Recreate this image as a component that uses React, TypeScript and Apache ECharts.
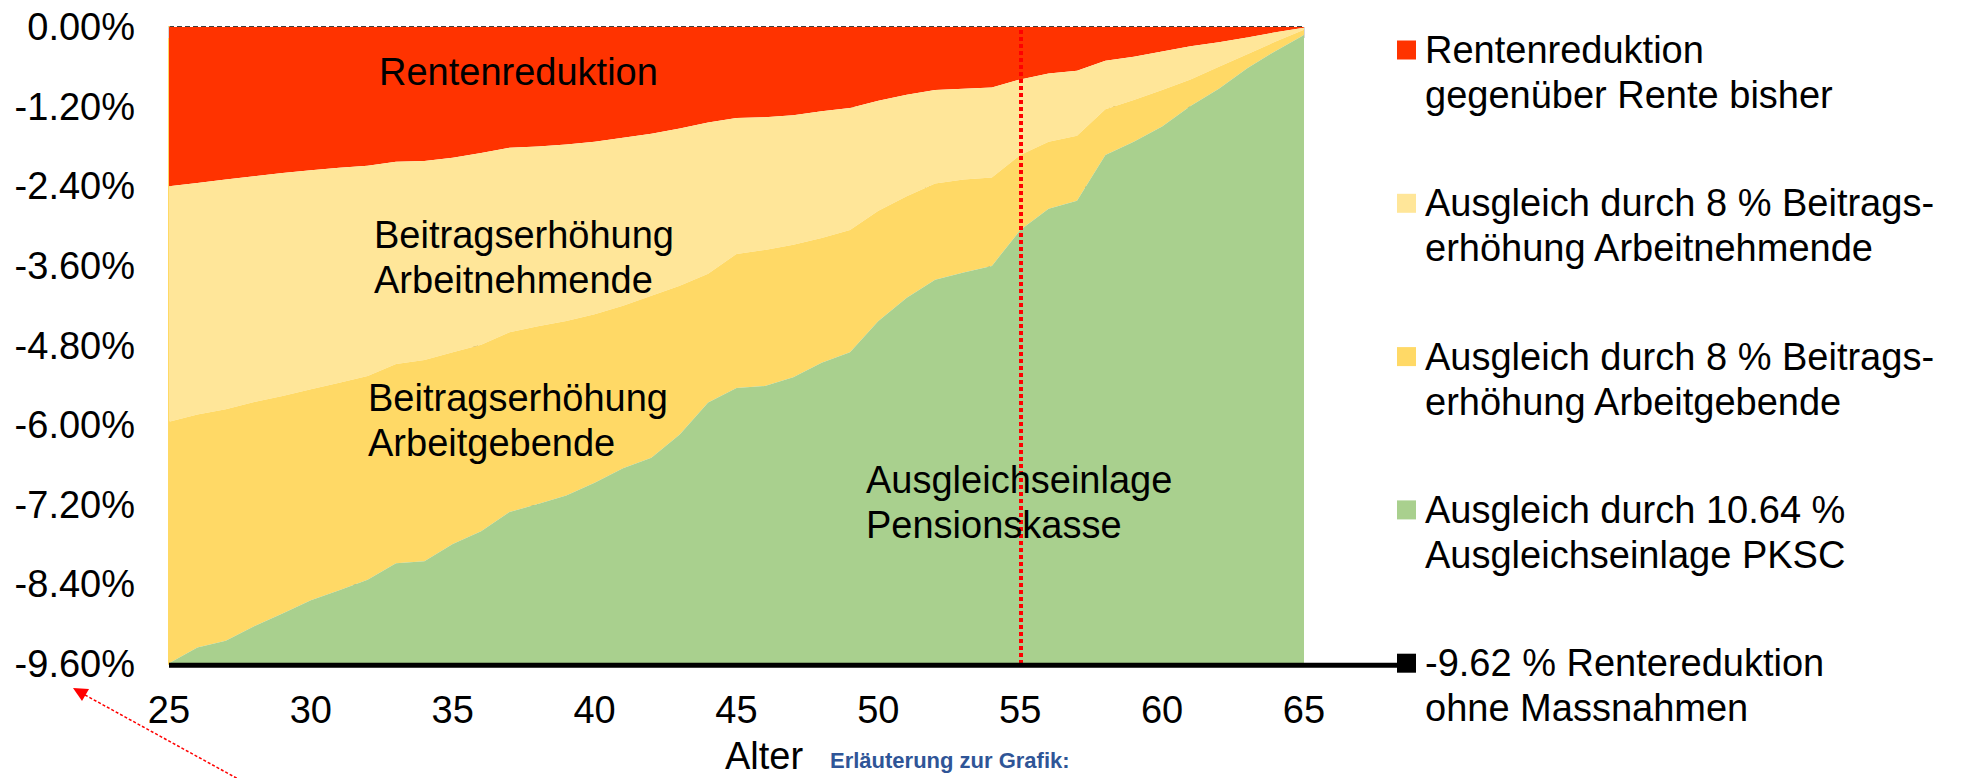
import React, { useEffect, useRef } from "react";
import * as echarts from "echarts";

const FONT = "'Liberation Sans', Arial, Helvetica, sans-serif";

// Age on the x axis
const ages = [
  "25", "26", "27", "28", "29", "30", "31", "32", "33", "34",
  "35", "36", "37", "38", "39", "40", "41", "42", "43", "44",
  "45", "46", "47", "48", "49", "50", "51", "52", "53", "54",
  "55", "56", "57", "58", "59", "60", "61", "62", "63", "64", "65",
];

// Remaining pension reduction versus the current pension (%), lower edge of the red band
const reductionEdge = [
  -2.40, -2.35, -2.30, -2.25, -2.20, -2.16, -2.12, -2.09, -2.03, -2.02,
  -1.97, -1.90, -1.82, -1.80, -1.77, -1.73, -1.67, -1.61, -1.53, -1.44,
  -1.37, -1.36, -1.33, -1.27, -1.22, -1.11, -1.02, -0.95, -0.93, -0.91,
  -0.79, -0.70, -0.66, -0.51, -0.45, -0.37, -0.29, -0.23, -0.16, -0.08, -0.01,
];

// Cumulated down to the employee contribution increase (%)
const employeeEdge = [
  -5.95, -5.84, -5.76, -5.65, -5.56, -5.46, -5.36, -5.26, -5.08, -5.02,
  -4.90, -4.79, -4.60, -4.51, -4.43, -4.33, -4.20, -4.05, -3.90, -3.72,
  -3.42, -3.36, -3.28, -3.18, -3.06, -2.77, -2.55, -2.36, -2.30, -2.27,
  -1.93, -1.73, -1.64, -1.24, -1.10, -0.95, -0.79, -0.60, -0.41, -0.22, -0.04,
];

// Cumulated down to the employer contribution increase (%)
const employerEdge = [
  -9.59, -9.35, -9.25, -9.03, -8.84, -8.64, -8.49, -8.33, -8.08, -8.05,
  -7.79, -7.60, -7.31, -7.19, -7.06, -6.87, -6.65, -6.49, -6.14, -5.66,
  -5.44, -5.41, -5.28, -5.06, -4.90, -4.43, -4.08, -3.81, -3.70, -3.60,
  -3.06, -2.74, -2.62, -1.93, -1.73, -1.50, -1.19, -0.93, -0.62, -0.36, -0.12,
];

// Pension reduction without any measures (%)
const reductionWithoutMeasures = -9.62;

const yMin = -9.6;
const yMax = 0;
const yStep = 1.2;
const cutoffAge = "55";

const round2 = (v: number) => Math.round(v * 100) / 100;

// Thickness of each band, stacked from 0 downwards
const reductionShare = reductionEdge;
const employeeShare = employeeEdge.map((v, i) => round2(v - reductionEdge[i]));
const employerShare = employerEdge.map((v, i) => round2(v - employeeEdge[i]));
const fundShare = employerEdge.map((v) => round2(reductionWithoutMeasures - v));
const noMeasuresLine = ages.map(() => reductionWithoutMeasures);

const COLORS = {
  reduction: "#FF3300",
  employee: "#FFE699",
  employer: "#FFD966",
  fund: "#A9D08E",
  line: "#000000",
  marker: "#FF0000",
  note: "#2F5597",
};

const legendItems = [
  { lines: ["Rentenreduktion", "gegenüber Rente bisher"], color: COLORS.reduction },
  { lines: ["Ausgleich durch 8 % Beitrags-", "erhöhung Arbeitnehmende"], color: COLORS.employee },
  { lines: ["Ausgleich durch 8 % Beitrags-", "erhöhung Arbeitgebende"], color: COLORS.employer },
  { lines: ["Ausgleich durch 10.64 %", "Ausgleichseinlage PKSC"], color: COLORS.fund },
  { lines: ["-9.62 % Rentereduktion", "ohne Massnahmen"], color: COLORS.line },
];

const bandLabels = [
  { lines: ["Rentenreduktion"], x: 379, y: 72 },
  { lines: ["Beitragserhöhung", "Arbeitnehmende"], x: 374, y: 235 },
  { lines: ["Beitragserhöhung", "Arbeitgebende"], x: 368, y: 398 },
  { lines: ["Ausgleichseinlage", "Pensionskasse"], x: 866, y: 480 },
];

const WIDTH = 1961;
const HEIGHT = 778;
const GRID = { left: 169, right: 657, top: 27, bottom: 114 };
const LINE_STEP = 45;
const LEGEND = { x: 1397, firstY: 50, step: 153.3, box: 19, textX: 1425 };

function text(str: string, x: number, y: number, extra: Record<string, unknown> = {}) {
  return {
    type: "text",
    x,
    y,
    silent: true,
    z: 100,
    style: {
      text: str,
      fontSize: 38,
      fontFamily: FONT,
      fill: "#000000",
      align: "left",
      textAlign: "left",
      verticalAlign: "middle",
      textVerticalAlign: "middle",
      ...extra,
    },
  };
}

function areaSeries(name: string, data: number[], color: string) {
  return {
    name,
    type: "line",
    stack: "total",
    data,
    symbol: "none",
    silent: true,
    lineStyle: { width: 0, opacity: 0 },
    itemStyle: { color },
    areaStyle: { color, opacity: 1 },
    z: 2,
  };
}

export default function App() {
  const ref = useRef<HTMLDivElement>(null);

  useEffect(() => {
    if (!ref.current) return;
    const chart = echarts.init(ref.current, null, { renderer: "svg" });

    const option: any = {
      animation: false,
      backgroundColor: "#FFFFFF",
      grid: { ...GRID, containLabel: false },
      xAxis: {
        type: "category",
        data: ages,
        boundaryGap: false,
        axisLine: { show: false },
        axisTick: {
          show: true,
          interval: 0,
          length: 11,
          lineStyle: { color: "#D9D9D9", width: 2 },
        },
        axisLabel: {
          interval: 4,
          fontSize: 38,
          fontFamily: FONT,
          color: "#000000",
          margin: 27,
        },
        splitLine: { show: false },
      },
      yAxis: {
        type: "value",
        min: yMin,
        max: yMax,
        interval: yStep,
        axisLine: { show: true, lineStyle: { color: "#FFD966", width: 2 } },
        axisTick: { show: false },
        axisLabel: {
          fontSize: 38,
          fontFamily: FONT,
          color: "#000000",
          margin: 34,
          formatter: (v: number) => (Math.abs(v) < 1e-9 ? "0.00" : v.toFixed(2)) + "%",
        },
        splitLine: {
          show: true,
          lineStyle: {
            color: [
              "#808080", "#808080", "#808080", "#808080", "#808080",
              "#808080", "#808080", "#808080", "#000000",
            ],
            width: 1.5,
            type: [5, 3],
          },
        },
      },
      series: [
        areaSeries(legendItems[0].lines.join(" "), reductionShare, COLORS.reduction),
        areaSeries(legendItems[1].lines.join(" "), employeeShare, COLORS.employee),
        areaSeries(legendItems[2].lines.join(" "), employerShare, COLORS.employer),
        areaSeries(legendItems[3].lines.join(" "), fundShare, COLORS.fund),
        {
          name: legendItems[4].lines.join(" "),
          type: "line",
          data: noMeasuresLine,
          symbol: "none",
          silent: true,
          clip: false,
          lineStyle: { color: COLORS.line, width: 5 },
          itemStyle: { color: COLORS.line },
          z: 5,
          markLine: {
            silent: true,
            symbol: ["none", "none"],
            label: { show: false },
            lineStyle: { color: COLORS.marker, width: 4, type: [4, 3] },
            data: [{ xAxis: cutoffAge }],
          },
        },
      ],
    };
    chart.setOption(option);

    const lineY = chart.convertToPixel({ yAxisIndex: 0 }, reductionWithoutMeasures) as number;
    const plotRight = WIDTH - GRID.right;

    const graphics: any[] = [];

    // Band annotations inside the plot
    bandLabels.forEach((b) => {
      b.lines.forEach((ln, i) => graphics.push(text(ln, b.x, b.y + i * LINE_STEP)));
    });

    // Legend
    legendItems.forEach((item, k) => {
      const cy = LEGEND.firstY + k * LEGEND.step;
      graphics.push({
        type: "rect",
        silent: true,
        z: 100,
        shape: { x: LEGEND.x, y: cy - LEGEND.box / 2, width: LEGEND.box, height: LEGEND.box },
        style: { fill: item.color },
      });
      item.lines.forEach((ln, i) => graphics.push(text(ln, LEGEND.textX, cy + i * LINE_STEP)));
    });

    // Reduction line continued to its legend key
    graphics.push({
      type: "line",
      silent: true,
      z: 99,
      shape: { x1: plotRight, y1: lineY, x2: LEGEND.x + 2, y2: lineY },
      style: { stroke: COLORS.line, lineWidth: 5 },
    });

    // Axis title and note
    graphics.push(text("Alter", 764, 756, { align: "center", textAlign: "center" }));
    graphics.push(
      text("Erläuterung zur Grafik:", 830, 760, {
        fontSize: 22,
        fontWeight: "bold",
        fill: COLORS.note,
      })
    );

    // Dotted pointer towards the lowest axis value
    graphics.push({
      type: "line",
      silent: true,
      z: 100,
      shape: { x1: 85, y1: 695, x2: 240, y2: 780 },
      style: { stroke: COLORS.marker, lineWidth: 1.5, lineDash: [3, 2] },
    });
    graphics.push({
      type: "polygon",
      silent: true,
      z: 100,
      shape: { points: [[73, 688], [89, 689], [82, 701]] },
      style: { fill: COLORS.marker },
    });

    chart.setOption({ graphic: graphics });

    return () => chart.dispose();
  }, []);

  return (
    <div
      ref={ref}
      style={{
        position: "fixed",
        left: 0,
        top: 0,
        width: WIDTH,
        height: HEIGHT,
        background: "#FFFFFF",
      }}
    />
  );
}
